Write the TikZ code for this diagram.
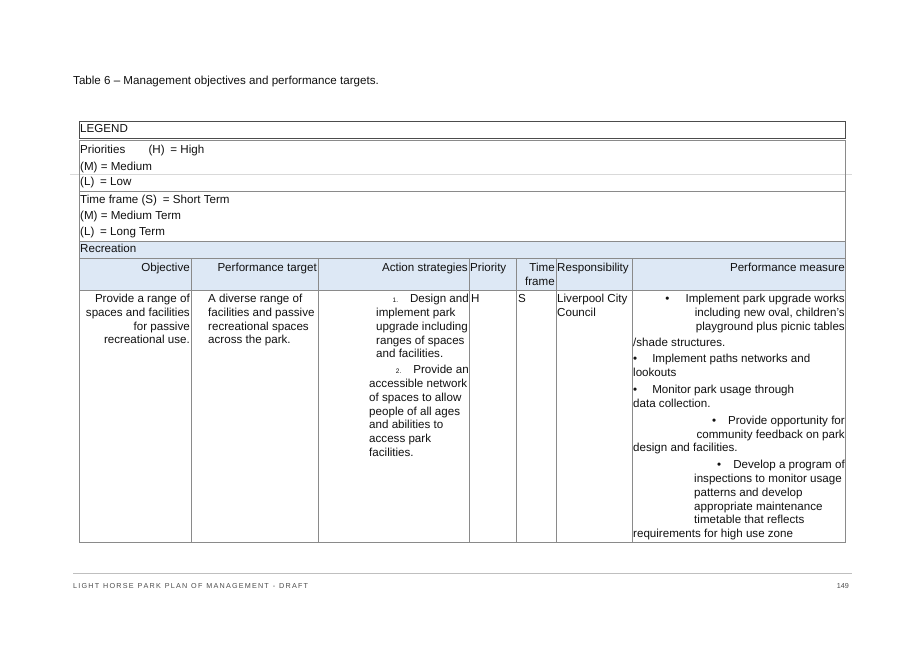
\documentclass[tikz,border=0pt]{standalone}
\usepackage{fontspec}
\setmainfont{Liberation Sans}
\definecolor{grid}{HTML}{8A8A8A}
\definecolor{hdr}{HTML}{DDE8F5}
\definecolor{txt}{HTML}{111111}
\begin{document}
\begin{tikzpicture}[x=1pt,y=-1pt,
  t/.style={inner sep=0pt,font=\fontsize{11.6}{13.7}\selectfont,text=txt},
  tl/.style={t,anchor=north west,align=left},
  tr/.style={t,anchor=north east,align=right},
  gl/.style={draw=grid,line width=0.7pt}]
\useasboundingbox (0,0) rectangle (917,648);
\fill[white] (0,0) rectangle (917,648);
% title
\node[tl] (title) at (73,76) {Table 6 – Management objectives and performance targets.};
% fills
\fill[hdr] (79,241) rectangle (845,290);
% legend box
\draw[gl,draw=black!70] (79,121) rectangle (845,138);
\node[tl] (legend) at (80,124) {LEGEND};
\draw[gl] (79,140) -- (845,140);
\draw[black!15,line width=0.6pt] (70,174) -- (852,174);
\draw[gl] (79,191) -- (845,191);
\draw[gl] (79,241) -- (845,241);
\draw[gl] (79,258) -- (845,258);
\draw[gl] (79,290) -- (845,290);
\draw[gl] (79,140) rectangle (845,542);
\foreach \x in {191,318,469,516,556,632} \draw[gl] (\x,258) -- (\x,542);
% legend text
\node[tl] (pr) at (80,145) {Priorities \hspace{20pt}(H)\enspace= High};
\node[tl] (pm) at (80,162) {(M) = Medium};
\node[tl] (pl) at (80,177) {(L)\enspace= Low};
\node[tl] (tf) at (80,195) {Time frame (S)\enspace= Short Term};
\node[tl] (tm) at (80,211) {(M) = Medium Term};
\node[tl] (tlg) at (80,227) {(L)\enspace= Long Term};
\node[tl] (rec) at (80,244) {Recreation};
% header
\node[tr] (h1) at (190,263) {Objective};
\node[tr] (h2) at (317,263) {Performance target};
\node[tr] (h3) at (468,263) {Action strategies};
\node[tl] (h4) at (470,263) {Priority};
\node[tr] (h5) at (555,263) {Time\\frame};
\node[tl] (h6) at (557,263) {Responsibility};
\node[tr] (h7) at (845,263) {Performance measure};
% body
\node[tr] (obj) at (190,294) {Provide a range of\\spaces and facilities\\for passive\\recreational use.};
\node[tl] (pt) at (208,294) {A diverse range of\\facilities and passive\\recreational spaces\\across the park.};
\node[tr] (a1) at (469,294) {{\fontsize{6.5}{7}\selectfont 1.}\hspace{12pt}Design and};
\node[tl] (a1b) at (376,308) {implement park\\upgrade including\\ranges of spaces\\and facilities.};
\node[tr] (a2) at (469,365) {{\fontsize{6.5}{7}\selectfont 2.}\hspace{12pt}Provide an};
\node[tl] (a2b) at (369,379) {accessible network\\of spaces to allow\\people of all ages\\and abilities to\\access park\\facilities.};
\node[tl] (pri) at (471,294) {H};
\node[tl] (tfv) at (518,294) {S};
\node[tl] (resp) at (557,294) {Liverpool City\\Council};
\node[tr] (m1) at (845,294) {•\hspace{16pt}Implement park upgrade works\\including new oval, children’s\\playground plus picnic tables};
\node[tl] (m1b) at (633,338) {/shade structures.};
\node[tl] (m2) at (633,354) {•\hspace{15pt}Implement paths networks and\\lookouts};
\node[tl] (m3) at (633,385) {•\hspace{15pt}Monitor park usage through\\data collection.};
\node[tr] (m4) at (845,416) {•\hspace{12pt}Provide opportunity for\\community feedback on park};
\node[tl] (m4b) at (633,443) {design and facilities.};
\node[tr] (m5) at (845,460) {•\hspace{12pt}Develop a program of};
\node[tl] (m5b) at (694,474) {inspections to monitor usage\\patterns and develop\\appropriate maintenance\\timetable that reflects};
\node[tl] (m5c) at (633,529) {requirements for high use zone};
% footer
\draw[black!25,line width=0.6pt] (73,573) -- (852,573);
\node[inner sep=0pt,anchor=west,font=\fontsize{7.2}{8}\selectfont,text=black!70] (foot) at (73,586) {L\,I\,G\,H\,T\ \ H\,O\,R\,S\,E\ \ P\,A\,R\,K\ \ P\,L\,A\,N\ \ O\,F\ \ M\,A\,N\,A\,G\,E\,M\,E\,N\,T\ \ -\ \ D\,R\,A\,F\,T};
\node[inner sep=0pt,anchor=east,font=\fontsize{7.2}{8}\selectfont,text=black!70] (pg) at (849,586) {149};
\end{tikzpicture}
\end{document}
